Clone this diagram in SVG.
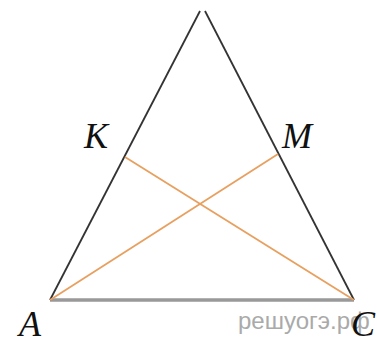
<svg xmlns="http://www.w3.org/2000/svg" width="377" height="341" viewBox="0 0 377 341">
<style>
.side{stroke:#333;stroke-width:1.8;fill:none}
.base{stroke:#999;stroke-width:3.5;fill:none}
.seg{stroke:#e8a060;stroke-width:1.8;fill:none}
.lbl{font-family:"Liberation Serif",serif;font-style:italic;font-size:36px;fill:#111}
.wm{font-family:"Liberation Sans",sans-serif;font-size:24px;fill:#aaa}
</style>
<rect width="377" height="341" fill="#fff"/>
<text class="wm" x="238" y="329">решуогэ.рф</text>
<g id="connectors">
<line class="base" x1="50" y1="300" x2="354" y2="300"/>
<line class="side" x1="50" y1="300" x2="200" y2="11"/>
<line class="side" x1="354" y1="300" x2="205" y2="11"/>
<line class="seg" x1="125" y1="157" x2="354" y2="300"/>
<line class="seg" x1="278" y1="154" x2="50" y2="300"/>
</g>
<g id="K"><text class="lbl" x="84" y="148">K</text></g>
<g id="M"><text class="lbl" x="282" y="148">M</text></g>
<g id="A"><text class="lbl" x="19" y="336">A</text></g>
<g id="C"><text class="lbl" x="351" y="336">C</text></g>
</svg>
